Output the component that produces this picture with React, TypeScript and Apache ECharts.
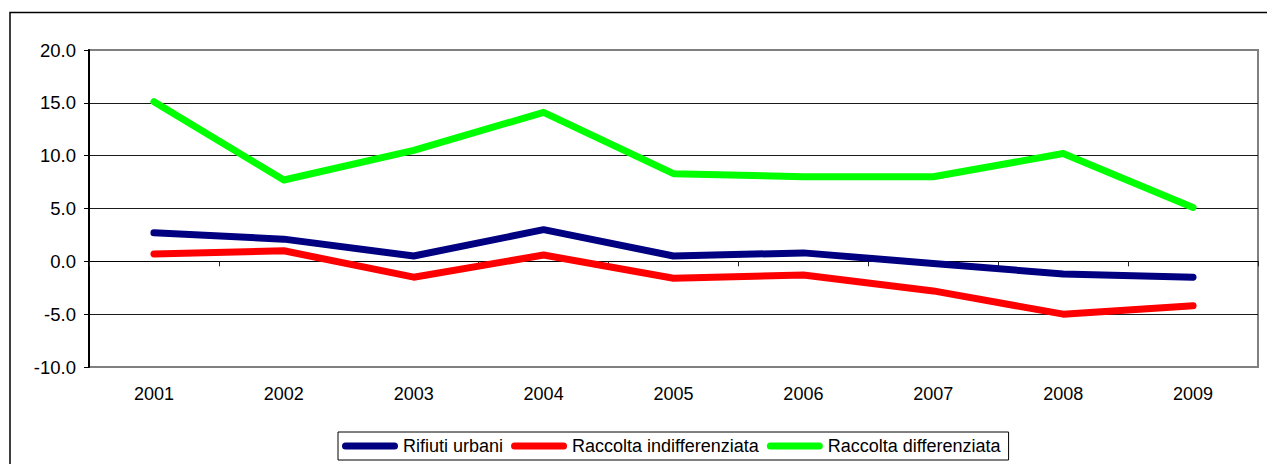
import React, { useEffect, useRef } from "react";
import * as echarts from "echarts";

const years = ["2001", "2002", "2003", "2004", "2005", "2006", "2007", "2008", "2009"];
const rifiutiUrbani = [2.7, 2.1, 0.5, 3.0, 0.5, 0.8, -0.2, -1.2, -1.5];
const raccoltaIndifferenziata = [0.7, 1.0, -1.5, 0.6, -1.6, -1.3, -2.8, -5.0, -4.2];
const raccoltaDifferenziata = [15.1, 7.7, 10.5, 14.1, 8.3, 8.0, 8.0, 10.2, 5.1];
const seriesNames = ["Rifiuti urbani", "Raccolta indifferenziata", "Raccolta differenziata"];
const seriesColors = ["#000080", "#ff0000", "#00ff00"];

const FONT = "'Liberation Sans', Arial, sans-serif";
const pill = "path://M3.5,0 H52.5 A3.5,3.5 0 0 1 52.5,7 H3.5 A3.5,3.5 0 0 1 3.5,0 Z";

export default function App() {
  const ref = useRef<HTMLDivElement>(null);
  useEffect(() => {
    if (!ref.current) return;
    const chart = echarts.init(ref.current, null, { renderer: "svg" });
    const values = [rifiutiUrbani, raccoltaIndifferenziata, raccoltaDifferenziata];
    chart.setOption({
      animation: false,
      backgroundColor: "#ffffff",
      textStyle: { fontFamily: FONT, color: "#000" },
      graphic: [
        {
          type: "rect",
          shape: { x: 10, y: 12.5, width: 1400, height: 600 },
          style: { fill: "none", stroke: "#000", lineWidth: 1.5 },
          silent: true,
        },
      ],
      grid: {
        left: 89,
        top: 50,
        right: 9,
        bottom: 97,
        show: true,
        borderColor: "#808080",
        borderWidth: 2,
        backgroundColor: "transparent",
      },
      legend: {
        left: 338,
        top: 432,
        padding: [5, 8, 5, 4],
        borderColor: "#000",
        borderWidth: 1,
        itemWidth: 56,
        itemHeight: 7,
        itemGap: 8,
        icon: pill,
        data: seriesNames,
        textStyle: { fontFamily: FONT, fontSize: 18, color: "#000" },
      },
      xAxis: [
        {
          type: "category",
          data: years,
          position: "bottom",
          boundaryGap: true,
          axisLine: { show: false, onZero: false },
          axisTick: { show: false },
          splitLine: { show: false },
          axisLabel: { fontFamily: FONT, fontSize: 18, color: "#000", margin: 18 },
        },
        {
          type: "category",
          data: years,
          position: "bottom",
          boundaryGap: true,
          axisLine: { show: true, onZero: true, lineStyle: { color: "#000", width: 1 } },
          axisTick: { show: true, length: 5, lineStyle: { color: "#222" } },
          axisLabel: { show: false },
          splitLine: { show: false },
        },
      ],
      yAxis: {
        type: "value",
        min: -10,
        max: 20,
        interval: 5,
        axisLine: { show: true, onZero: false, lineStyle: { color: "#000", width: 2 } },
        axisTick: { show: true, length: 5, lineStyle: { color: "#000" } },
        axisLabel: {
          fontFamily: FONT,
          fontSize: 18.5,
          color: "#000",
          margin: 13,
          formatter: (v: number) => v.toFixed(1),
        },
        splitLine: {
          show: true,
          showMinLine: false,
          showMaxLine: false,
          lineStyle: { color: "#1a1a1a", width: 1 },
        },
      },
      series: seriesNames.map((name, i) => ({
        name,
        type: "line",
        xAxisIndex: 0,
        data: values[i],
        symbol: "none",
        showSymbol: false,
        color: seriesColors[i],
        lineStyle: { color: seriesColors[i], width: 7, cap: "round", join: "round" },
        z: 3 + i,
      })),
    });
    return () => chart.dispose();
  }, []);
  return (
    <div
      ref={ref}
      style={{ position: "fixed", left: 0, top: 0, width: 1267, height: 464, background: "#fff" }}
    />
  );
}
